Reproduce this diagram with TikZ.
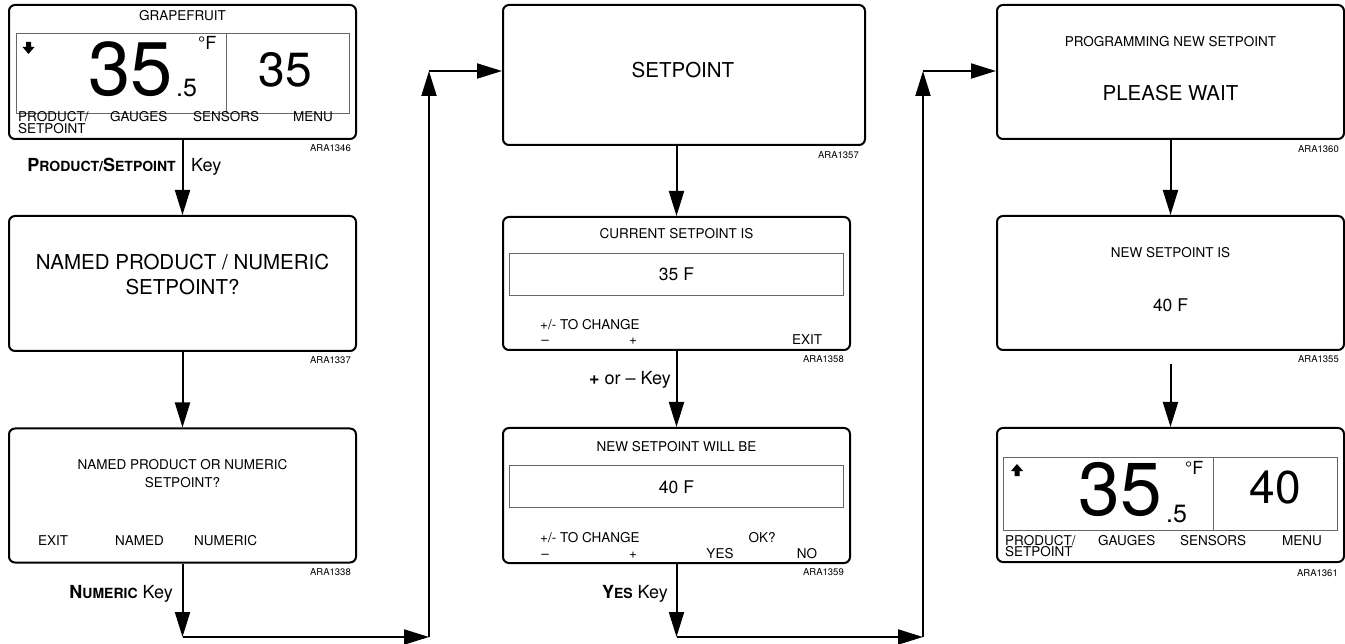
\documentclass[tikz,border=0pt]{standalone}
\usepackage{fontspec}
\setmainfont{TeX Gyre Heros}
\usetikzlibrary{arrows.meta, positioning}
\newcommand{\fsz}[1]{\fontsize{#1}{#1}\selectfont}
\newcommand{\keyname}[2]{{\bfseries{\fsz{18}#1}{\fsz{14}#2}}}
\tikzset{
    screen/.style={
        rectangle,
        rounded corners=6pt,
        draw=black,
        line width=2pt,
        minimum width=347pt,
        minimum height=134pt,
        inner sep=0pt
    },
    lcd/.style={draw=black!60, line width=0.9pt},
    msg/.style={font=\fsz{13.5}, inner sep=0pt},
    title/.style={font=\fsz{20.5}, inner sep=0pt},
    value/.style={font=\fsz{17.5}, inner sep=0pt},
    code/.style={font=\fsz{9.5}, inner sep=0pt},
    keylabel/.style={font=\fsz{18}, inner sep=0pt},
    arrow/.style={
        line width=2pt,-{Triangle[length=25pt,width=15pt]}
    }
}

\begin{document}
\begin{tikzpicture}[x=1pt,y=-1pt]
\useasboundingbox (0,0) rectangle (1345,644);

% left column
\node (s1) [screen] at (182.5,72) {};
\node (s2) [screen, minimum height=135pt] at (182.5,283.5) {};
\node (s3) [screen] at (182.5,495.5) {};

\node (grape) [msg, anchor=base] at (182.5,21) {GRAPEFRUIT};
\draw [lcd] (16,33) rectangle (349,113);
\draw [lcd] (226,33) -- (226,113);
\fill (26,42) -- (31,42) -- (31,47) -- (34.5,47) -- (28.5,54) -- (22.5,47) -- (26,47) -- cycle;
\node (temp1) [font=\fsz{76}, inner sep=0pt, anchor=base east] at (173,96) {35};
\node (dec1) [font=\fsz{25}, inner sep=0pt, anchor=base west] at (176,97) {.5};
\node (unit1) [font=\fsz{18}, inner sep=0pt, anchor=base west] at (198,50) {°F};
\node (set1) [font=\fsz{48}, inner sep=0pt, anchor=base] at (285,87) {35};
\node (prod1) [msg, anchor=base west] at (18,122) {PRODUCT/};
\node (prod1b) [msg, anchor=base west] at (18,133.5) {SETPOINT};
\node (gauge1) [msg, anchor=base west] at (110,122) {GAUGES};
\node (sens1) [msg, anchor=base west] at (193,122) {SENSORS};
\node (menu1) [msg, anchor=base west] at (293,122) {MENU};
\node (ara1) [code, below left=4pt and 6pt of s1.south east] {ARA1346};

\node (ask1a) [title, anchor=base] at (182.5,269.5) {NAMED PRODUCT / NUMERIC};
\node (ask1b) [title, anchor=base] at (182.5,294.5) {SETPOINT?};
\node (ara2) [code, below left=4pt and 6pt of s2.south east] {ARA1337};

\node (ask2a) [msg, anchor=base] at (182.5,469) {NAMED PRODUCT OR NUMERIC};
\node (ask2b) [msg, anchor=base] at (182.5,487) {SETPOINT?};
\node (exit2) [msg, anchor=base west] at (38,545) {EXIT};
\node (named2) [msg, anchor=base west] at (115,545) {NAMED};
\node (numer2) [msg, anchor=base west] at (194,545) {NUMERIC};
\node (ara3) [code, below left=5pt and 6pt of s3.south east] {ARA1338};

% middle column
\node (s4) [screen, minimum width=362pt, minimum height=140pt] at (684,75) {};
\node (s5) [screen, minimum height=133pt] at (676.5,283.5) {};
\node (s6) [screen, minimum height=135pt] at (676.5,495.5) {};

\node (setp) [title, anchor=base] at (683,77.5) {SETPOINT};
\node (ara4) [code, below left=5pt and 7pt of s4.south east] {ARA1357};

\node (cur) [msg, anchor=base] at (676.5,239) {CURRENT SETPOINT IS};
\draw [lcd] (509,253) rectangle (843,295);
\node (cur35) [value, anchor=base] at (676.5,280.5) {35 F};
\node (chg5) [msg, anchor=base west] at (540,330) {+/- TO CHANGE};
\node (minus5) [msg, anchor=base] at (545,345) {–};
\node (plus5) [msg, anchor=base] at (633,345) {+};
\node (exit5) [msg, anchor=base west] at (792,345) {EXIT};
\node (ara5) [code, below left=4pt and 7pt of s5.south east] {ARA1358};

\node (nwb) [msg, anchor=base] at (676.5,451) {NEW SETPOINT WILL BE};
\draw [lcd] (509,465) rectangle (843,507);
\node (new40) [value, anchor=base] at (676.5,493.5) {40 F};
\node (chg6) [msg, anchor=base west] at (540,542) {+/- TO CHANGE};
\node (ok6) [msg, anchor=base] at (762,542) {OK?};
\node (minus6) [msg, anchor=base] at (545,558) {–};
\node (plus6) [msg, anchor=base] at (633,558) {+};
\node (yes6) [msg, anchor=base] at (720,558) {YES};
\node (no6) [msg, anchor=base] at (807,558) {NO};
\node (ara6) [code, below left=4pt and 7pt of s6.south east] {ARA1359};

% right column
\node (s7) [screen] at (1170.5,72) {};
\node (s8) [screen] at (1170.5,283) {};
\node (s9) [screen] at (1170.5,495) {};

\node (prog) [msg, anchor=base] at (1170.5,47) {PROGRAMMING NEW SETPOINT};
\node (wait) [title, anchor=base] at (1170.5,100.5) {PLEASE WAIT};
\node (ara7) [code, below left=5pt and 6pt of s7.south east] {ARA1360};

\node (nis) [msg, anchor=base] at (1170.5,258) {NEW SETPOINT IS};
\node (nis40) [value, anchor=base] at (1170.5,311.5) {40 F};
\node (ara8) [code, below left=4pt and 6pt of s8.south east] {ARA1355};

\draw [lcd] (1003,457) rectangle (1337,530);
\draw [lcd] (1213,457) -- (1213,530);
\fill (1014.5,476) -- (1019.5,476) -- (1019.5,471) -- (1023,471) -- (1017,464) -- (1011,471) -- (1014.5,471) -- cycle;
\node (temp9) [font=\fsz{75}, inner sep=0pt, anchor=base east] at (1162,515) {35};
\node (dec9) [font=\fsz{25}, inner sep=0pt, anchor=base west] at (1166,522) {.5};
\node (unit9) [font=\fsz{18}, inner sep=0pt, anchor=base west] at (1185,475) {°F};
\node (set9) [font=\fsz{46}, inner sep=0pt, anchor=base] at (1275,503) {40};
\node (prod9) [msg, anchor=base west] at (1005,545) {PRODUCT/};
\node (prod9b) [msg, anchor=base west] at (1005,556.5) {SETPOINT};
\node (gauge9) [msg, anchor=base west] at (1098,545) {GAUGES};
\node (sens9) [msg, anchor=base west] at (1180,545) {SENSORS};
\node (menu9) [msg, anchor=base west] at (1282,545) {MENU};
\node (ara9) [code, below left=6pt and 7pt of s9.south east] {ARA1361};

% key labels
\node (key1) [keylabel, anchor=base east] at (176,171.5) {\keyname{P}{RODUCT/}\keyname{S}{ETPOINT}};
\node (key1b) [keylabel, anchor=base west] at (191,171.5) {Key};
\node (key3) [keylabel, anchor=base east] at (173,598) {\keyname{N}{UMERIC} Key};
\node (key5) [keylabel, anchor=base east] at (671,385) {{\bfseries +} or – Key};
\node (key6) [keylabel, anchor=base east] at (668,598) {\keyname{Y}{ES} Key};

% corners of the connectors
\coordinate (c1) at (182.5,637);
\coordinate (c2) at (429,637);
\coordinate (c3) at (429,71);
\coordinate (c4) at (676.5,637);
\coordinate (c5) at (923,637);
\coordinate (c6) at (923,71);

\draw [arrow] (s1) -- (s2);
\draw [arrow] (s2) -- (s3);
\draw [arrow] (s3) -- (c1);
\draw [arrow] (c1) -- (c2);
\draw [arrow] (c2) -- (c3);
\draw [arrow] (c3) -- (c3 -| s4.west);
\draw [arrow] (s4.south -| s5.north) -- (s5.north);
\draw [arrow] (s5) -- (s6);
\draw [arrow] (s6) -- (c4);
\draw [arrow] (c4) -- (c5);
\draw [arrow] (c5) -- (c6);
\draw [arrow] (c6) -- (c6 -| s7.west);
\draw [arrow] (s7) -- (s8);
\draw [arrow, shorten <=13pt] (s8) -- (s9);

\end{tikzpicture}
\end{document}
